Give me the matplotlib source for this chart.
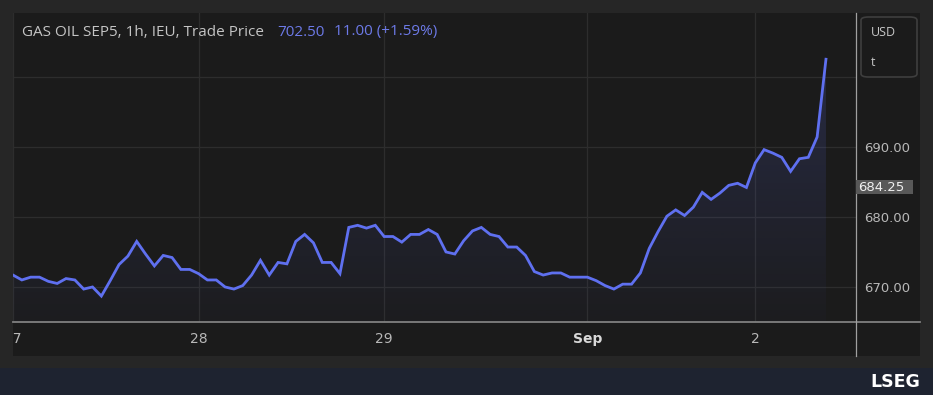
"""Hourly gas oil futures price chart in a dark trading-terminal style."""

import matplotlib

matplotlib.use("Agg")
import matplotlib.pyplot as plt
import numpy as np
from matplotlib.lines import Line2D
from matplotlib.patches import FancyBboxPatch, Polygon, Rectangle
from matplotlib.transforms import blended_transform_factory

# hourly closes, GAS OIL SEP5 (IEU), Aug 27 -> Sep 2
prices = [
    671.7, 671.0, 671.4, 671.4, 670.8, 670.5, 671.2, 671.0, 669.7, 670.0,
    668.7, 670.9, 673.2, 674.4, 676.5, 674.7, 673.0, 674.5, 674.2, 672.5,
    672.5, 671.9, 671.0, 671.0, 670.0, 669.7, 670.2, 671.7, 673.8, 671.7,
    673.5, 673.3, 676.5, 677.5, 676.3, 673.5, 673.5, 671.9, 678.5, 678.8,
    678.4, 678.8, 677.2, 677.2, 676.4, 677.5, 677.5, 678.2, 677.5, 675.0,
    674.7, 676.6, 678.0, 678.5, 677.5, 677.2, 675.7, 675.7, 674.5, 672.2,
    671.7, 672.0, 672.0, 671.4, 671.4, 671.4, 670.9, 670.2, 669.7, 670.4,
    670.4, 672.0, 675.5, 677.9, 680.1, 681.0, 680.2, 681.4, 683.5, 682.5,
    683.4, 684.5, 684.8, 684.2, 687.7, 689.6, 689.1, 688.5, 686.5, 688.3,
    688.5, 691.4, 702.5,
]
date_ticks = [0, 21, 42, 65, 84]  # bar index where each day starts
date_labels = ["27", "28", "29", "Sep", "2"]
price_ticks = [670, 680, 690, 700]
price_labels = ["670.00", "680.00", "690.00", ""]
marker_price = 684.25

W, H = 933, 395
OUTER = "#262626"
PANEL = "#1b1b1b"
GRID = "#2d2d2d"
LINE = "#5f70f0"
TEXT = "#b8b8b8"


def fx(px):
    return px / W


def fy(py):
    return 1 - py / H


def draw_backdrop(fig):
    """Panel, footer band and the LSEG mark."""
    fig.patch.set_facecolor(OUTER)
    fig.add_artist(Rectangle((fx(13), fy(356)), fx(920) - fx(13), fy(13) - fy(356),
                             transform=fig.transFigure, fc=PANEL, ec="none", zorder=-5))
    fig.add_artist(Rectangle((0, 0), 1, fy(368), transform=fig.transFigure,
                             fc="#1e2330", ec="none", zorder=-5))
    fig.text(fx(920), fy(382), "LSEG", color="white", fontsize=12.5,
             fontweight="bold", ha="right", va="center")


def draw_price(ax):
    """Price line with a fading fill underneath."""
    x = np.arange(len(prices))
    y = np.array(prices)
    ax.set_xlim(0, 95.4)
    ax.set_ylim(665.0, 709.1)

    y0, y1 = ax.get_ylim()
    poly = Polygon(np.column_stack([np.r_[x, x[-1], x[0]], np.r_[y, y0, y0]]),
                   closed=True, fc="none", ec="none")
    ax.add_patch(poly)
    rgb = matplotlib.colors.to_rgb(LINE)
    grad = np.zeros((256, 1, 4))
    grad[..., :3] = rgb
    grad[:, 0, 3] = np.linspace(0.22, 0.02, 256)
    im = ax.imshow(grad, extent=[x[0], x[-1], y0, y1], origin="upper",
                   aspect="auto", zorder=1)
    im.set_clip_path(poly)

    ax.plot(x, y, color=LINE, lw=2.0, zorder=3, solid_joinstyle="miter")


def style_axes(fig, ax):
    ax.set_facecolor(PANEL)
    for s in ax.spines.values():
        s.set_visible(False)
    ax.set_xticks(date_ticks)
    ax.set_xticklabels([])
    ax.tick_params(axis="x", length=0)
    ax.set_yticks(price_ticks)
    ax.set_yticklabels(price_labels)
    ax.yaxis.tick_right()
    ax.tick_params(axis="y", length=0, pad=6, labelcolor=TEXT, labelsize=9.5)
    ax.grid(True, color=GRID, lw=0.9)
    ax.set_axisbelow(True)

    # highlighted price tag on the scale
    tr = blended_transform_factory(fig.transFigure, ax.transData)
    fig.add_artist(Rectangle((fx(856), marker_price - 1.05), fx(913) - fx(856), 2.1,
                             transform=tr, fc="#585858", ec="none", zorder=4))
    fig.text(fx(858), marker_price, "684.25", transform=tr, ha="left", va="center",
             color="#f0f0f0", fontsize=9.5, zorder=5)


def draw_dates(fig, ax):
    axd = fig.add_axes([fx(13), fy(356), fx(856) - fx(13), fy(322) - fy(356)])
    axd.set_xlim(ax.get_xlim())
    axd.set_ylim(0, 1)
    axd.axis("off")
    for pos, lab in zip(date_ticks, date_labels):
        bold = lab == "Sep"
        axd.text(pos, 0.5, lab, ha="center", va="center", clip_on=True,
                 color="#d8d8d8" if bold else TEXT, fontsize=10,
                 fontweight="bold" if bold else "normal",
                 family=["Liberation Sans Narrow", "DejaVu Sans"])


def draw_header(fig):
    font = ["Open Sans", "DejaVu Sans"]
    fig.text(fx(22), fy(32), "GAS OIL SEP5, 1h, IEU, Trade Price", color="#c4c4c4",
             fontsize=11, va="center", family=font)
    fig.text(fx(277), fy(32), "702.50", color="#6d7ae8", fontsize=11,
             va="center", family=font)
    fig.text(fx(334), fy(32), "11.00 (+1.59%)", color="#6d7ae8", fontsize=11,
             va="center", family=font)

    # unit box over the price scale
    fig.add_artist(FancyBboxPatch((fx(861), fy(77)), fx(917) - fx(861), fy(17) - fy(77),
                                  boxstyle="round,pad=0,rounding_size=0.008",
                                  transform=fig.transFigure, fc=PANEL,
                                  ec="#3e3e3e", lw=1.2, zorder=5))
    fig.text(fx(871), fy(33), "USD", color="#c8c8c8", fontsize=9, va="center",
             family=font, zorder=6)
    fig.text(fx(871), fy(62), "t", color="#c8c8c8", fontsize=9, va="center",
             family=font, zorder=6)

    # axis borders
    fig.add_artist(Line2D([fx(13), fx(920)], [fy(322), fy(322)], color="#808080",
                          lw=1.3, transform=fig.transFigure))
    fig.add_artist(Line2D([fx(856), fx(856)], [fy(13), fy(356)], color="#a0a0a0",
                          lw=0.9, transform=fig.transFigure))


def main():
    fig = plt.figure(figsize=(W / 100, H / 100), dpi=100)
    draw_backdrop(fig)
    ax = fig.add_axes([fx(13), fy(322), fx(856) - fx(13), fy(13) - fy(322)])
    style_axes(fig, ax)
    draw_price(ax)
    draw_dates(fig, ax)
    draw_header(fig)
    fig.savefig("out.png", dpi=100, facecolor=fig.get_facecolor())
    plt.close(fig)


if __name__ == "__main__":
    main()
